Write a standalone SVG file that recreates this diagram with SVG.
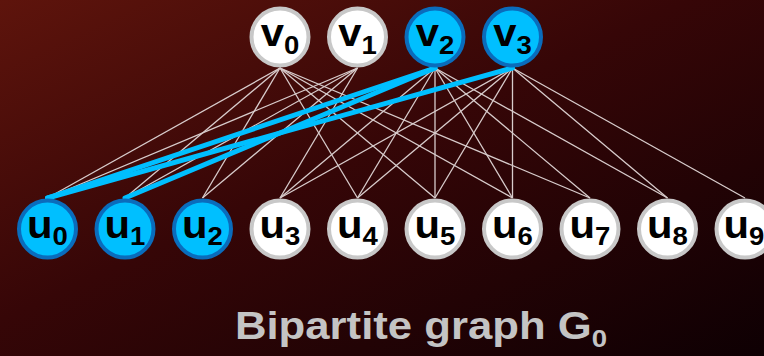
<svg xmlns="http://www.w3.org/2000/svg" width="764" height="356" viewBox="0 0 764 356">
  <defs>
    <linearGradient id="bg" x1="0" y1="0" x2="1" y2="1">
      <stop offset="0" stop-color="#5e140c"/>
      <stop offset="0.45" stop-color="#360607"/>
      <stop offset="1" stop-color="#0e0003"/>
    </linearGradient>
  </defs>
  <style>
    .e { stroke: #d8cccc; stroke-width: 1.3; fill: none; }
    .m { stroke: #00bfff; stroke-width: 5; fill: none; stroke-linecap: round; }
    .w { fill: #ffffff; stroke: #c8c8c8; stroke-width: 4; }
    .b { fill: #00bfff; stroke: #0a6cbc; stroke-width: 4; }
    .lbl { font-family: "Liberation Sans", Arial, sans-serif; font-weight: bold; font-size: 38px; fill: #000000; text-anchor: middle; }
    .sub { font-size: 25px; }
    .title { font-family: "Liberation Sans", Arial, sans-serif; font-weight: bold; font-size: 38px; fill: #c4c4c4; text-anchor: middle; }
  </style>
  <rect x="0" y="0" width="764" height="356" fill="url(#bg)"/>
  <g id="edges">
    <line class="e" x1="280" y1="68" x2="47.5" y2="198"/>
    <line class="e" x1="280" y1="68" x2="125" y2="198"/>
    <line class="e" x1="280" y1="68" x2="202.5" y2="198"/>
    <line class="e" x1="280" y1="68" x2="357.5" y2="198"/>
    <line class="e" x1="280" y1="68" x2="435" y2="198"/>
    <line class="e" x1="280" y1="68" x2="512.5" y2="198"/>
    <line class="e" x1="280" y1="68" x2="590" y2="198"/>
    <line class="e" x1="357.5" y1="68" x2="47.5" y2="198"/>
    <line class="e" x1="357.5" y1="68" x2="125" y2="198"/>
    <line class="e" x1="357.5" y1="68" x2="202.5" y2="198"/>
    <line class="e" x1="357.5" y1="68" x2="280" y2="198"/>
    <line class="e" x1="435" y1="68" x2="280" y2="198"/>
    <line class="e" x1="435" y1="68" x2="357.5" y2="198"/>
    <line class="e" x1="435" y1="68" x2="435" y2="198"/>
    <line class="e" x1="435" y1="68" x2="512.5" y2="198"/>
    <line class="e" x1="435" y1="68" x2="590" y2="198"/>
    <line class="e" x1="435" y1="68" x2="667.5" y2="198"/>
    <line class="e" x1="512.5" y1="68" x2="280" y2="198"/>
    <line class="e" x1="512.5" y1="68" x2="357.5" y2="198"/>
    <line class="e" x1="512.5" y1="68" x2="435" y2="198"/>
    <line class="e" x1="512.5" y1="68" x2="512.5" y2="198"/>
    <line class="e" x1="512.5" y1="68" x2="667.5" y2="198"/>
    <line class="e" x1="512.5" y1="68" x2="745" y2="198"/>
    <line class="m" x1="435" y1="68" x2="47.5" y2="198"/>
    <line class="m" x1="435" y1="68" x2="125" y2="198"/>
    <line class="m" x1="512.5" y1="68" x2="47.5" y2="198"/>
  </g>
  <g id="v0"><circle class="w" cx="280" cy="37" r="28.5"/><text class="lbl" transform="translate(280,46) scale(1.1,1)">v<tspan class="sub" dy="8">0</tspan></text></g>
  <g id="v1"><circle class="w" cx="357.5" cy="37" r="28.5"/><text class="lbl" transform="translate(357.5,46) scale(1.1,1)">v<tspan class="sub" dy="8">1</tspan></text></g>
  <g id="v2"><circle class="b" cx="435" cy="37" r="28.5"/><text class="lbl" transform="translate(435,46) scale(1.1,1)">v<tspan class="sub" dy="8">2</tspan></text></g>
  <g id="v3"><circle class="b" cx="512.5" cy="37" r="28.5"/><text class="lbl" transform="translate(512.5,46) scale(1.1,1)">v<tspan class="sub" dy="8">3</tspan></text></g>
  <g id="u0"><circle class="b" cx="47.5" cy="229" r="28.5"/><text class="lbl" transform="translate(47.5,238) scale(1.1,1)">u<tspan class="sub" dy="7">0</tspan></text></g>
  <g id="u1"><circle class="b" cx="125" cy="229" r="28.5"/><text class="lbl" transform="translate(125,238) scale(1.1,1)">u<tspan class="sub" dy="7">1</tspan></text></g>
  <g id="u2"><circle class="b" cx="202.5" cy="229" r="28.5"/><text class="lbl" transform="translate(202.5,238) scale(1.1,1)">u<tspan class="sub" dy="7">2</tspan></text></g>
  <g id="u3"><circle class="w" cx="280" cy="229" r="28.5"/><text class="lbl" transform="translate(280,238) scale(1.1,1)">u<tspan class="sub" dy="7">3</tspan></text></g>
  <g id="u4"><circle class="w" cx="357.5" cy="229" r="28.5"/><text class="lbl" transform="translate(357.5,238) scale(1.1,1)">u<tspan class="sub" dy="7">4</tspan></text></g>
  <g id="u5"><circle class="w" cx="435" cy="229" r="28.5"/><text class="lbl" transform="translate(435,238) scale(1.1,1)">u<tspan class="sub" dy="7">5</tspan></text></g>
  <g id="u6"><circle class="w" cx="512.5" cy="229" r="28.5"/><text class="lbl" transform="translate(512.5,238) scale(1.1,1)">u<tspan class="sub" dy="7">6</tspan></text></g>
  <g id="u7"><circle class="w" cx="590" cy="229" r="28.5"/><text class="lbl" transform="translate(590,238) scale(1.1,1)">u<tspan class="sub" dy="7">7</tspan></text></g>
  <g id="u8"><circle class="w" cx="667.5" cy="229" r="28.5"/><text class="lbl" transform="translate(667.5,238) scale(1.1,1)">u<tspan class="sub" dy="7">8</tspan></text></g>
  <g id="u9"><circle class="w" cx="745" cy="229" r="28.5"/><text class="lbl" transform="translate(744,238) scale(1.1,1)">u<tspan class="sub" dy="7">9</tspan></text></g>
  <text class="title" transform="translate(421,339) scale(1.15,1)">Bipartite graph G<tspan font-size="24" dy="8">0</tspan></text>
</svg>
